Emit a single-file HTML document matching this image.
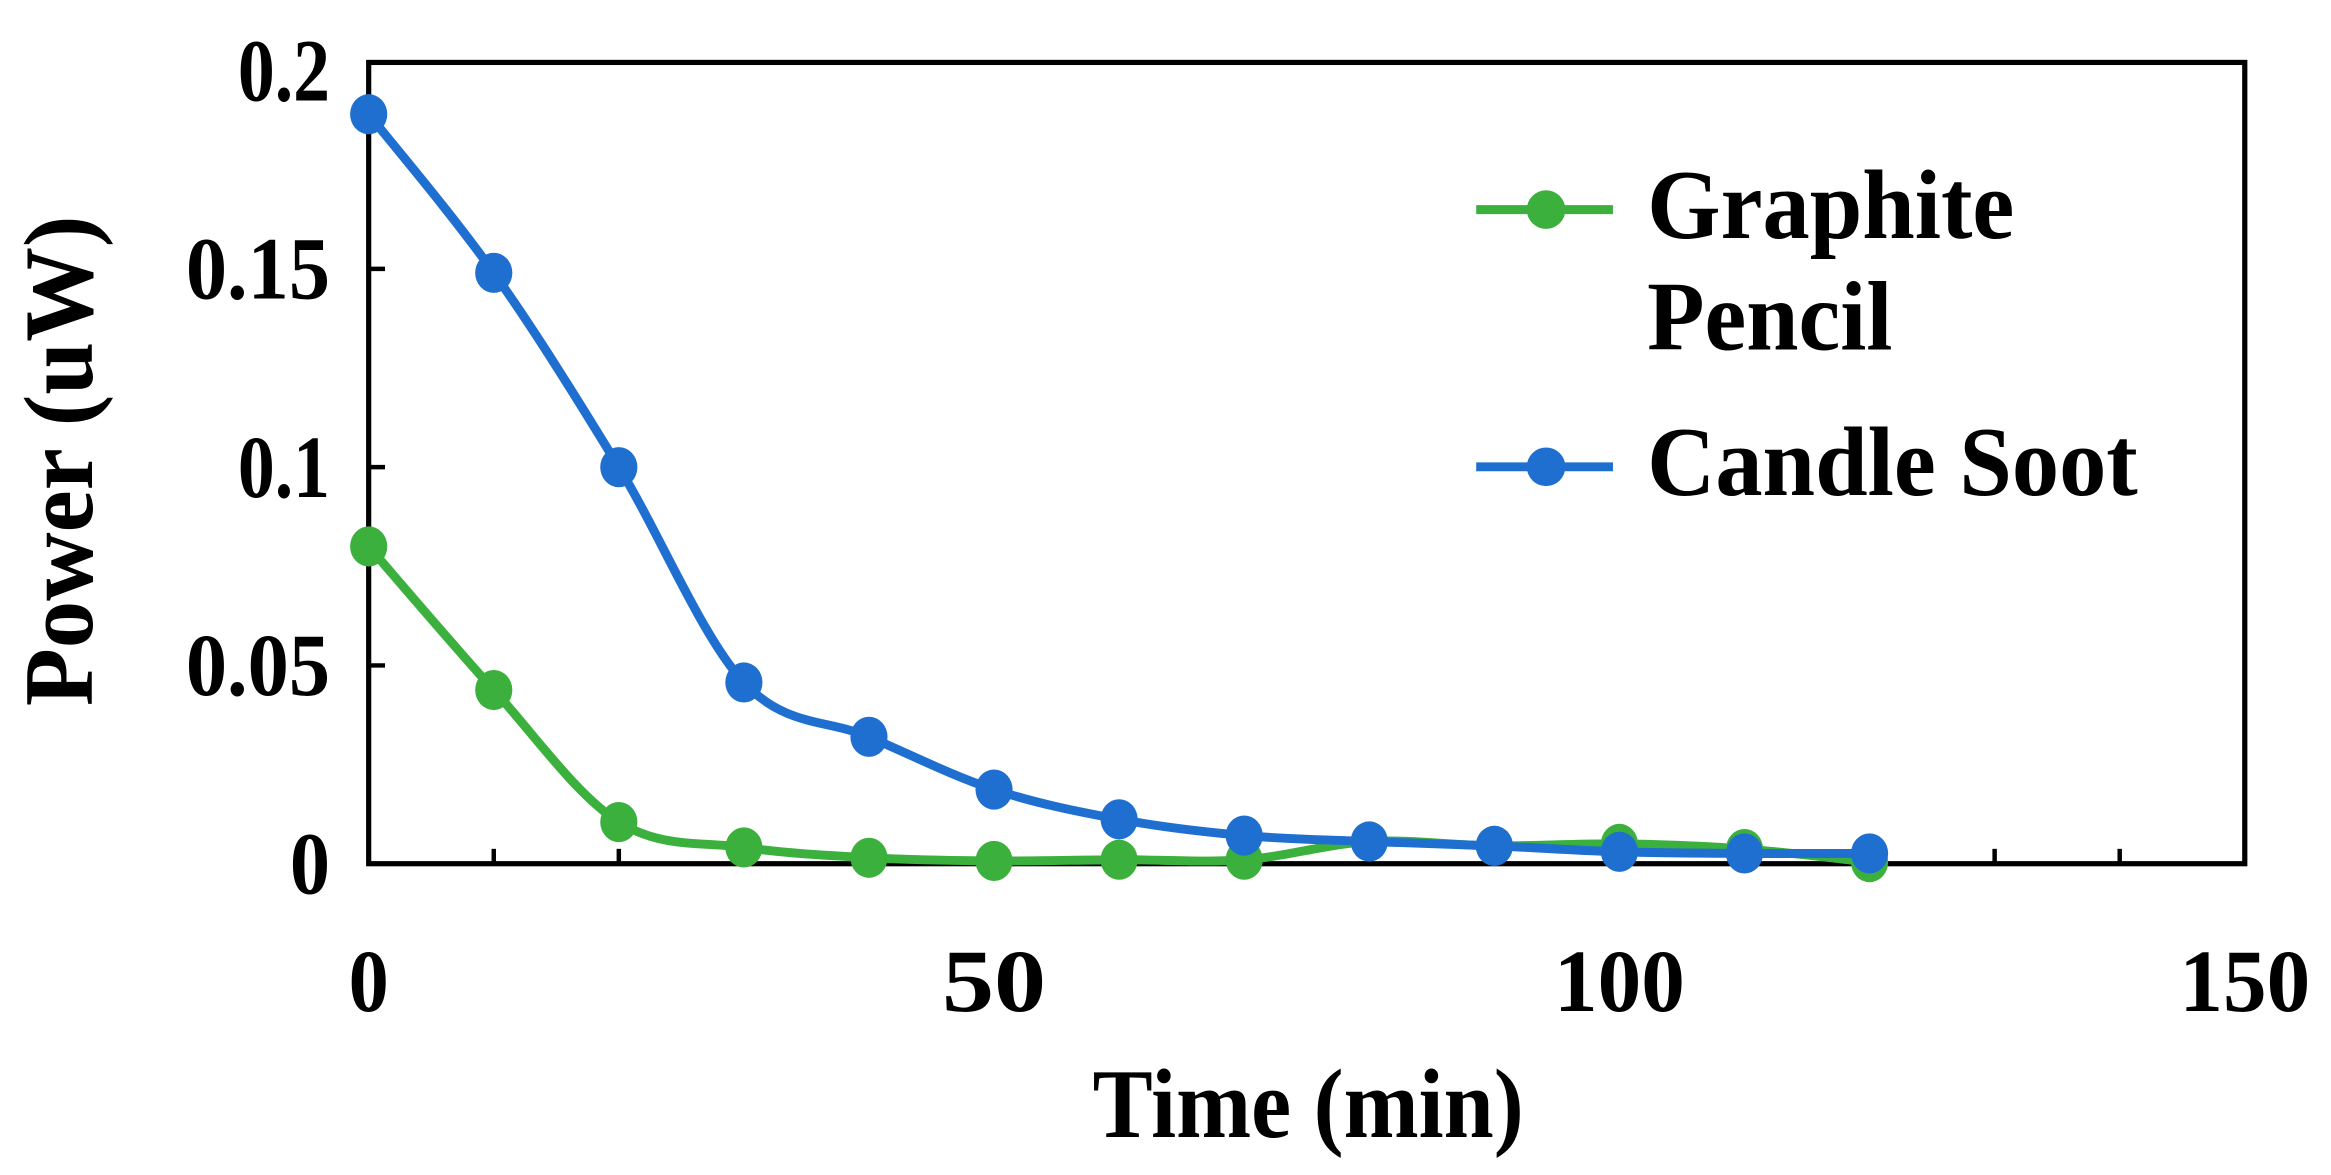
<!DOCTYPE html>
<html><head><meta charset="utf-8"><style>
html,body{margin:0;padding:0;background:#fff;}
svg{display:block;}
text{font-family:"Liberation Serif",serif;font-weight:bold;fill:#000;}
</style></head><body>
<svg id="chart" width="2331" height="1175" viewBox="0 0 1568 790.4" preserveAspectRatio="none" xmlns="http://www.w3.org/2000/svg">
<g id="axes"></g>
<g id="series"></g>
<g id="legend">
  <line x1="993" y1="141" x2="1085" y2="141" stroke="#3cb03c" stroke-width="6"/>
  <ellipse cx="1040" cy="141" rx="13" ry="13" fill="#3cb03c"/>
  <text x="1108" y="160" font-size="66" textLength="247" lengthAdjust="spacingAndGlyphs">Graphite</text>
  <text x="1108" y="235" font-size="66" textLength="165" lengthAdjust="spacingAndGlyphs">Pencil</text>
  <line x1="993" y1="314" x2="1085" y2="314" stroke="#1f6fd0" stroke-width="6"/>
  <ellipse cx="1040" cy="314" rx="13" ry="13" fill="#1f6fd0"/>
  <text x="1108" y="333" font-size="66" textLength="330" lengthAdjust="spacingAndGlyphs">Candle Soot</text>
</g>
<text x="880" y="765" font-size="66" text-anchor="middle" textLength="290" lengthAdjust="spacingAndGlyphs">Time (min)</text>
<text transform="translate(62,310) rotate(-90)" font-size="66" text-anchor="middle" textLength="330" lengthAdjust="spacingAndGlyphs">Power (uW)</text>
</svg>
<script>
const timesMin = [0,10,20,30,40,50,60,70,80,90,100,110,120];
const graphiteValues = [0.080,0.0438,0.0105,0.0041,0.0015,0.0007,0.0010,0.0010,0.0056,0.0045,0.0050,0.0037,0.0004];
const candleValues = [0.189,0.149,0.100,0.0457,0.032,0.0187,0.0112,0.0071,0.0056,0.0045,0.0030,0.0026,0.0026];
const yTicks = [0,0.05,0.1,0.15,0.2];
const yTickLabels = ["0","0.05","0.1","0.15","0.2"];
const xTicks = [0,50,100,150];
const xTickLabels = ["0","50","100","150"];

const NS = "http://www.w3.org/2000/svg";
const L = 248, R = 1510, T = 42, B = 581;
const xMax = 150, yMax = 0.2;
const yTop = 47.5;
function xs(v){ return L + (R - L) * v / xMax; }
function ys(v){ return B - (B - yTop) * v / yMax; }
function mk(tag, attrs, parent){
  const el = document.createElementNS(NS, tag);
  for (const k in attrs) el.setAttribute(k, attrs[k]);
  parent.appendChild(el);
  return el;
}
function labelWidth(s){ return s.length === 1 ? 27 : (s.length === 2 ? 70 : (s.indexOf('.') >= 0 ? (s.length === 3 ? 62 : 97) : 88)); }
const axes = document.getElementById('axes');
const frame = mk('rect', {x:L, y:T, width:R-L, height:B-T, fill:'none', stroke:'#000', 'stroke-width':3.5}, axes);


for (let v = 10; v < xMax; v += 10) {
  const t = mk('line', {x1:xs(v), x2:xs(v), y1:B, y2:B-10, stroke:'#000', 'stroke-width':3}, axes);
  
  
}
yTicks.forEach((v, i) => {
  if (v > 0 && v < yMax) {
    const t = mk('line', {x1:L, x2:L+11, y1:ys(v), y2:ys(v), stroke:'#000', 'stroke-width':3}, axes);
    
    
  }
  const s = yTickLabels[i];
  const lab = mk('text', {x:222, y:ys(v)+20, 'font-size':60, 'text-anchor':'end', textLength:labelWidth(s), lengthAdjust:'spacingAndGlyphs'}, axes);
  lab.textContent = s;
  
  
});
xTicks.forEach((v, i) => {
  const s = xTickLabels[i];
  const lab = mk('text', {x:xs(v), y:680, 'font-size':60, 'text-anchor':'middle', textLength:labelWidth(s), lengthAdjust:'spacingAndGlyphs'}, axes);
  lab.textContent = s;
  
  
});

function smoothPath(pts){
  let d = 'M' + pts[0][0] + ',' + pts[0][1];
  for (let i = 0; i < pts.length - 1; i++) {
    const p0 = pts[Math.max(0, i-1)], p1 = pts[i], p2 = pts[i+1], p3 = pts[Math.min(pts.length-1, i+2)];
    const k = 1/6;
    const c1x = p1[0] + (p2[0]-p0[0])*k, c1y = p1[1] + (p2[1]-p0[1])*k;
    const c2x = p2[0] - (p3[0]-p1[0])*k, c2y = p2[1] - (p3[1]-p1[1])*k;
    d += ' C' + c1x + ',' + c1y + ' ' + c2x + ',' + c2y + ' ' + p2[0] + ',' + p2[1];
  }
  return d;
}
const seriesG = document.getElementById('series');
function drawSeries(vals, color, name){
  const g = mk('g', {}, seriesG);
  
  
  const pts = timesMin.map((t, i) => [xs(t), ys(vals[i])]);
  const p = mk('path', {d:smoothPath(pts), fill:'none', stroke:color, 'stroke-width':6, 'stroke-linejoin':'round'}, g);
  
  
  pts.forEach(pt => {
    const m = mk('ellipse', {cx:pt[0], cy:pt[1], rx:12.5, ry:13.5, fill:color}, g);
    
    
  });
}
drawSeries(graphiteValues, '#3cb03c', 'graphite-pencil');
drawSeries(candleValues, '#1f6fd0', 'candle-soot');
</script>
</body></html>
